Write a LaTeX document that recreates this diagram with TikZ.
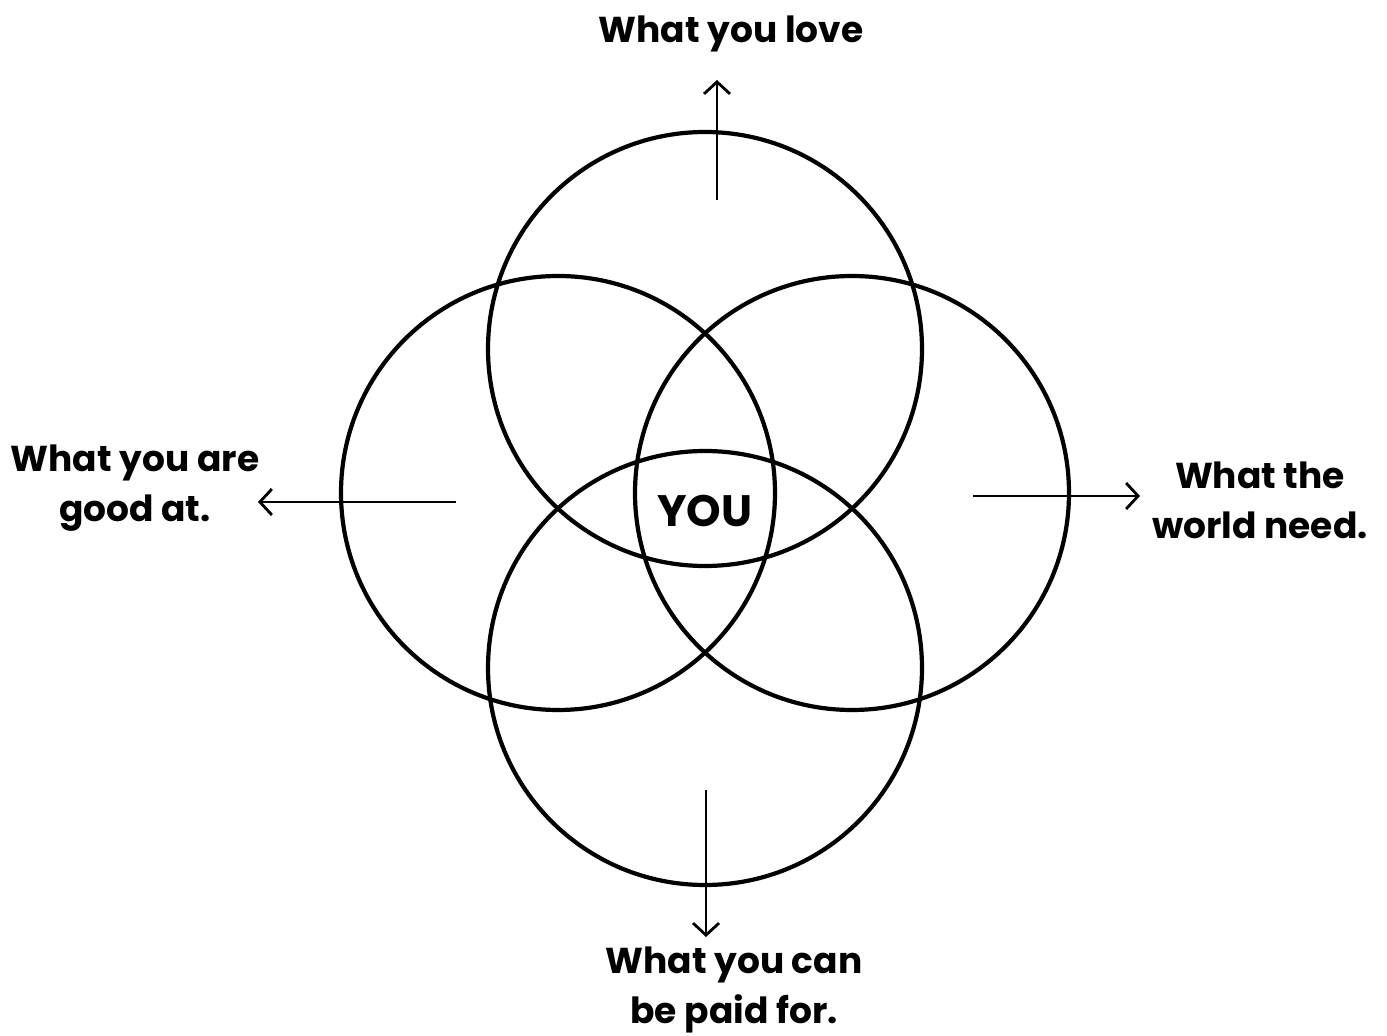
\documentclass[tikz,border=0pt]{standalone}
\usepackage{fontspec}
\setmainfont{Poppins}
\usetikzlibrary{arrows.meta}
\tikzset{
    ring/.style={circle, draw, line width=2.1pt, minimum size=217pt, inner sep=0pt},
    pointer/.style={line width=1.4pt, -{Straight Barb[length=6pt, width=13pt]}},
    goal/.style={font=\bfseries\fontsize{18}{25}\selectfont, align=center, inner sep=0pt}
}

\begin{document}
\begin{tikzpicture}[x=0.5pt, y=-0.5pt]
    \useasboundingbox (0,0) rectangle (1387,1036);
    % the four circles
    \node[ring] (love) at (705,349) {};
    \node[ring] (good) at (558,493) {};
    \node[ring] (world) at (852,493) {};
    \node[ring] (paid) at (705,668) {};
    \node[font=\bfseries\fontsize{22}{26}\selectfont] (you) at (705,511) {YOU};
    % labels
    \node[goal, anchor=base] (t-love) at (731,43) {What you love};
    \node[goal] (t-good) at (135,488) {What you are\\good at.};
    \node[goal] (t-world) at (1260,500) {What the\\world need.};
    \node[goal] (t-paid) at (734,990) {What you can\\be paid for.};
    % arrows
    \coordinate (a-love) at (717,200);
    \coordinate (h-love) at (717,80);
    \coordinate (a-good) at (456,502);
    \coordinate (h-good) at (258,502);
    \coordinate (a-world) at (973,496);
    \coordinate (h-world) at (1140,496);
    \coordinate (a-paid) at (706,790);
    \coordinate (h-paid) at (706,937);
    \draw[pointer] (a-love) -- (h-love);
    \draw[pointer] (a-good) -- (h-good);
    \draw[pointer] (a-world) -- (h-world);
    \draw[pointer] (a-paid) -- (h-paid);
\end{tikzpicture}
\end{document}
